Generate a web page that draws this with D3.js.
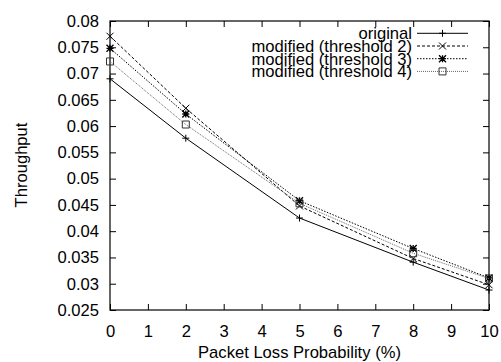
<!DOCTYPE html>
<html><head><meta charset="utf-8">
<script src="https://cdn.jsdelivr.net/npm/d3@7"></script>
<style>
body{margin:0;background:#fff;}
text{font-family:"Liberation Sans",Arial,sans-serif;font-size:16.6px;fill:#000;}
</style></head>
<body><svg id="c" width="501" height="362"></svg>
<script>
const lossProb = [0, 2, 5, 8, 10];
const original = [0.0690, 0.0577, 0.0425, 0.0341, 0.0288];
const threshold2 = [0.0771, 0.0634, 0.0448, 0.0348, 0.0298];
const threshold3 = [0.0748, 0.0623, 0.0458, 0.0367, 0.0311];
const threshold4 = [0.0723, 0.0603, 0.0453, 0.0358, 0.0310];
const seriesNames = ["original", "modified (threshold 2)", "modified (threshold 3)", "modified (threshold 4)"];
const xTicks = [0,1,2,3,4,5,6,7,8,9,10];
const yTicks = [0.025,0.03,0.035,0.04,0.045,0.05,0.055,0.06,0.065,0.07,0.075,0.08];

const series = [
  {name: seriesNames[0], values: original, dash: null, color: "#000", marker: "plus"},
  {name: seriesNames[1], values: threshold2, dash: "3,2", color: "#000", marker: "cross"},
  {name: seriesNames[2], values: threshold3, dash: "1.5,1.5", color: "#000", marker: "star"},
  {name: seriesNames[3], values: threshold4, dash: "1,1", color: "#666", marker: "box"}
];

const W = 501, H = 362, m = {l:110, r:12, t:21, b:52};
const svg = d3.select("#c");
const x = d3.scaleLinear().domain([0,10]).range([m.l, W-m.r]);
const y = d3.scaleLinear().domain([0.025,0.08]).range([H-m.b, m.t]);

const fmt = d => String(+d.toFixed(3));
// axes with inward ticks
const tl = 6;
svg.append("g").attr("transform",`translate(0,${H-m.b})`)
  .call(d3.axisBottom(x).tickValues(xTicks).tickSize(-tl).tickPadding(tl+9).tickFormat(d=>d))
  .call(g=>g.select(".domain").remove());
svg.append("g").attr("transform",`translate(0,${m.t})`)
  .call(d3.axisTop(x).tickValues(xTicks).tickSize(-tl).tickFormat(""))
  .call(g=>g.select(".domain").remove());
svg.append("g").attr("transform",`translate(${m.l},0)`)
  .call(d3.axisLeft(y).tickValues(yTicks).tickSize(-tl).tickPadding(tl+5).tickFormat(fmt))
  .call(g=>g.select(".domain").remove());
svg.append("g").attr("transform",`translate(${W-m.r},0)`)
  .call(d3.axisRight(y).tickValues(yTicks).tickSize(-tl).tickFormat(""))
  .call(g=>g.select(".domain").remove());
svg.selectAll(".tick text").style("font-size","16.6px").style("font-family",'"Liberation Sans",Arial,sans-serif').attr("fill","#000");
svg.selectAll(".tick line").attr("stroke","#000");

svg.append("rect").attr("x",m.l).attr("y",m.t).attr("width",W-m.l-m.r).attr("height",H-m.t-m.b)
  .attr("fill","none").attr("stroke","#000").attr("stroke-width",1.2);

function drawMarker(g, type, cx, cy, color){
  const s = 3.5;
  const p = d3.path();
  if(type==="plus"||type==="star"){ p.moveTo(cx-s,cy); p.lineTo(cx+s,cy); p.moveTo(cx,cy-s); p.lineTo(cx,cy+s); }
  if(type==="cross"||type==="star"){ p.moveTo(cx-s,cy-s); p.lineTo(cx+s,cy+s); p.moveTo(cx-s,cy+s); p.lineTo(cx+s,cy-s); }
  if(type==="box"){ p.rect(cx-s,cy-s,2*s,2*s); }
  g.append("path").attr("d",p.toString()).attr("fill","none").attr("stroke",type==="box"?"#333":color).attr("stroke-width",type==="star"?1.3:1);
}

const line = d3.line().x((d,i)=>x(lossProb[i])).y(d=>y(d));
series.forEach(s=>{
  const g = svg.append("g");
  g.append("path").attr("d",line(s.values)).attr("fill","none").attr("stroke",s.color)
    .attr("stroke-width",1).attr("stroke-dasharray",s.dash);
  s.values.forEach((v,i)=>drawMarker(g,s.marker,x(lossProb[i]),y(v),"#000"));
});

// legend
const lg = svg.append("g");
series.forEach((s,i)=>{
  const cy = 33.3 + i*12.7;
  lg.append("text").attr("x",412).attr("y",cy).attr("dy","0.35em").attr("text-anchor","end").text(s.name);
  lg.append("line").attr("x1",417).attr("x2",468).attr("y1",cy).attr("y2",cy)
    .attr("stroke",s.color).attr("stroke-width",1).attr("stroke-dasharray",s.dash);
  drawMarker(lg,s.marker,442.5,cy,"#000");
});

svg.append("text").attr("x",(m.l+W-m.r)/2).attr("y",358).attr("text-anchor","middle").text("Packet Loss Probability (%)");
svg.append("text").attr("transform","translate(26.5,165) rotate(-90)").attr("text-anchor","middle").text("Throughput");
</script></body></html>
